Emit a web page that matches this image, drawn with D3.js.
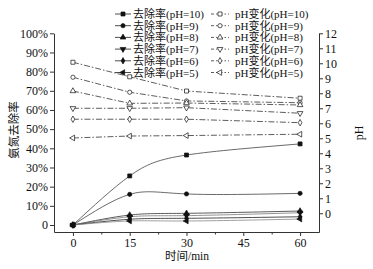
<!DOCTYPE html>
<html><head><meta charset="utf-8">
<script src="https://cdn.jsdelivr.net/npm/d3@7"></script>
<style>body{margin:0;background:#fff}svg text{font-family:"Liberation Serif","Times New Roman","Noto Sans CJK SC",serif;fill:#111}</style>
</head><body><svg id="c" width="373" height="269"></svg>
<script>
// ---- data ----
const times = [0, 15, 30, 60];
const xTicks = [0, 15, 30, 45, 60];
const xMinorTicks = [7.5, 22.5, 37.5, 52.5];
const leftTicks = [0, 10, 20, 30, 40, 50, 60, 70, 80, 90, 100];
const rightTicks = [0, 1, 2, 3, 4, 5, 6, 7, 8, 9, 10, 11, 12];
const seriesPH = ["10", "9", "8", "7", "6", "5"];
const markerTypes = ["square", "circle", "triUp", "triDown", "diamond", "triLeft"];
// removal rate (%)
const removalPH10 = [0, 25.6, 36.5, 42.3];
const removalPH9  = [0, 16.0, 16.2, 16.5];
const removalPH8  = [0, 5.2, 6.1, 7.3];
const removalPH7  = [0, 4.3, 4.9, 6.4];
const removalPH6  = [0, 3.0, 3.5, 4.3];
const removalPH5  = [0, 2.1, 2.1, 3.1];
// pH change
const phPH10 = [10.07, 9.10, 8.15, 7.67];
const phPH9  = [9.07, 8.07, 7.49, 7.37];
const phPH8  = [8.15, 7.33, 7.35, 7.22];
const phPH7  = [7.00, 7.00, 7.04, 6.67];
const phPH6  = [6.27, 6.27, 6.27, 6.04];
const phPH5  = [5.02, 5.15, 5.18, 5.27];

const removalSeries = [removalPH10, removalPH9, removalPH8, removalPH7, removalPH6, removalPH5];
const phSeries = [phPH10, phPH9, phPH8, phPH7, phPH6, phPH5];

// ---- drawing ----
const svg = d3.select("#c");
const x = d3.scaleLinear().domain([-5, 65]).range([54, 319]);
const yL = d3.scaleLinear().domain([-3.65, 100]).range([232, 33.3]);
const yR = d3.scaleLinear().domain([-1.25, 12]).range([232, 33.3]);

function symbolPath(type, size) {
  const map = {
    square: [d3.symbolSquare, 0], circle: [d3.symbolCircle, 0],
    triUp: [d3.symbolTriangle, 0], triDown: [d3.symbolTriangle, 180],
    diamond: [d3.symbolDiamond, 0], triLeft: [d3.symbolTriangle, -90]
  };
  const m = map[type];
  return { d: d3.symbol().type(m[0]).size(size)(), rot: m[1] };
}
const symSize = {square: 16, circle: 14, triUp: 14, triDown: 14, diamond: 12, triLeft: 14};

function drawMarker(g, type, cx, cy, filled) {
  const s = symbolPath(type, symSize[type]);
  g.append("path").attr("d", s.d)
    .attr("transform", `translate(${cx},${cy}) rotate(${s.rot})`)
    .attr("fill", filled ? "#111" : "#fff")
    .attr("stroke", "#111").attr("stroke-width", 0.7);
}

// axes
const fs = "12px";
svg.append("g").attr("transform", "translate(54,0)")
  .call(d3.axisLeft(yL).tickValues(leftTicks).tickSize(4).tickSizeOuter(0).tickPadding(2)
    .tickFormat(d => d === 0 ? "0" : d + "%"));
svg.append("g").attr("transform", "translate(319,0)")
  .call(d3.axisRight(yR).tickValues(rightTicks).tickSize(4).tickSizeOuter(0).tickPadding(2));
svg.append("g").attr("transform", "translate(0,232)")
  .call(d3.axisBottom(x).tickValues(xTicks).tickSize(4).tickSizeOuter(0).tickPadding(2));
svg.append("g").attr("transform", "translate(0,232)")
  .call(d3.axisBottom(x).tickValues(xMinorTicks).tickSize(2.5).tickSizeOuter(0).tickFormat(""))
  .select(".domain").remove();
svg.selectAll(".tick text").attr("font-size", fs).style("font-family", '"Liberation Serif","Times New Roman",serif');
svg.selectAll(".domain, .tick line").attr("stroke", "#333").attr("stroke-width", 1);

// axis titles
svg.append("text").attr("transform", "translate(18,130) rotate(-90)")
  .attr("text-anchor", "middle").attr("font-size", "11.5px").text("氨氮去除率");
svg.append("text").attr("transform", "translate(363,133) rotate(-90)")
  .attr("text-anchor", "middle").attr("font-size", "12px").text("pH");
svg.append("text").attr("x", 187).attr("y", 260)
  .attr("text-anchor", "middle").attr("font-size", "11.5px").text("时间/min");

// pH lines (dash-dot, open markers)
const lineR = d3.line().x((d, i) => x(times[i])).y(d => yR(d));
phSeries.forEach((s) => {
  svg.append("path").attr("d", lineR(s)).attr("fill", "none")
    .attr("stroke", "#333").attr("stroke-width", 0.8).attr("stroke-dasharray", "6,2,1.5,2");
});
phSeries.forEach((s, k) => {
  const g = svg.append("g");
  s.forEach((v, i) => drawMarker(g, markerTypes[k], x(times[i]), yR(v), false));
});

// removal lines (smooth, filled markers)
const lineL = d3.line().x((d, i) => x(times[i])).y(d => yL(d)).curve(d3.curveNatural);
const removalColors = ["#444", "#444", "#333", "#777", "#222", "#888"];
removalSeries.forEach((s, k) => {
  svg.append("path").attr("d", lineL(s)).attr("fill", "none")
    .attr("stroke", removalColors[k]).attr("stroke-width", 0.8);
});
removalSeries.forEach((s, k) => {
  const g = svg.append("g");
  s.forEach((v, i) => drawMarker(g, markerTypes[k], x(times[i]), yL(v), true));
});

// legend
const legY0 = 14, legDy = 11.7, legFs = "11px";
seriesPH.forEach((p, k) => {
  const y = legY0 + k * legDy;
  const g = svg.append("g");
  g.append("line").attr("x1", 115).attr("x2", 131).attr("y1", y).attr("y2", y)
    .attr("stroke", "#222").attr("stroke-width", 0.8);
  drawMarker(g, markerTypes[k], 123, y, true);
  g.append("text").attr("x", 133).attr("y", y + 4).attr("font-size", legFs).text("去除率(pH=" + p + ")");
  g.append("line").attr("x1", 211).attr("x2", 229).attr("y1", y).attr("y2", y)
    .attr("stroke", "#333").attr("stroke-width", 0.8).attr("stroke-dasharray", "3,2,1.5,2");
  drawMarker(g, markerTypes[k], 220, y, false);
  g.append("text").attr("x", 235).attr("y", y + 4).attr("font-size", legFs).text("pH变化(pH=" + p + ")");
});
</script></body></html>
